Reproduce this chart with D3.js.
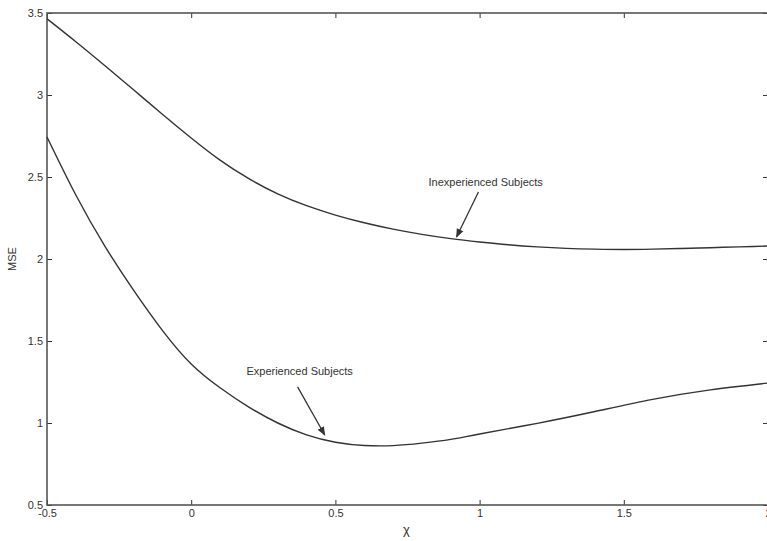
<!DOCTYPE html>
<html>
<head>
<meta charset="utf-8">
<script src="https://cdn.jsdelivr.net/npm/d3@7"></script>
<style>
  html, body { margin: 0; padding: 0; background: #fff; overflow: hidden; }
  svg { display: block; }
  text { font-family: "Liberation Sans", Arial, sans-serif; }
</style>
</head>
<body>
<svg id="chart" width="767" height="541"></svg>
<script>
// ---- data ----
const inexpX = [-0.5, -0.4, -0.3, -0.2, -0.1, 0, 0.1, 0.2, 0.3, 0.4, 0.5, 0.6, 0.7, 0.8, 0.9, 1.0, 1.1, 1.2, 1.3, 1.4, 1.5, 1.6, 1.7, 1.8, 1.9, 2.0];
const inexpY = [3.465, 3.325, 3.18, 3.032, 2.883, 2.738, 2.603, 2.49, 2.397, 2.325, 2.268, 2.221, 2.182, 2.15, 2.124, 2.104, 2.087, 2.074, 2.065, 2.06, 2.058, 2.06, 2.064, 2.069, 2.074, 2.079];

const expX = [-0.5, -0.4, -0.3, -0.2, -0.1, 0, 0.1, 0.2, 0.3, 0.4, 0.5, 0.6, 0.7, 0.8, 0.9, 1.0, 1.2, 1.4, 1.6, 1.8, 2.0];
const expY = [2.744, 2.39, 2.08, 1.81, 1.565, 1.36, 1.215, 1.097, 1.0, 0.928, 0.883, 0.863, 0.862, 0.877, 0.9, 0.933, 0.998, 1.07, 1.144, 1.202, 1.244];

const xTicks = [-0.5, 0, 0.5, 1, 1.5, 2];
const xTickLabels = ["-0.5", "0", "0.5", "1", "1.5", "2"];
const yTicks = [0.5, 1, 1.5, 2, 2.5, 3, 3.5];
const yTickLabels = ["0.5", "1", "1.5", "2", "2.5", "3", "3.5"];

const xLabel = "\u03C7";
const yLabel = "MSE";

// annotations: label text, text anchor point, arrow start, arrow tip (data units)
const annotLabels = ["Inexperienced Subjects", "Experienced Subjects"];
const annotText = [[1.021, 2.47], [0.376, 1.317]];
const annotFrom = [[0.996, 2.409], [0.369, 1.22]];
const annotTo = [[0.92, 2.134], [0.463, 0.927]];

// ---- layout ----
const W = 767, H = 541;
const m = { left: 47, top: 13, right: -1, bottom: 36 };
const x = d3.scaleLinear().domain([-0.5, 2]).range([m.left, W - m.right]);
const y = d3.scaleLinear().domain([0.5, 3.5]).range([H - m.bottom, m.top]);

const svg = d3.select("#chart");
const ink = "#333";
const boxInk = "#555";

svg.append("defs").append("marker")
  .attr("id", "arrow").attr("viewBox", "0 0 10 10")
  .attr("refX", 9).attr("refY", 5)
  .attr("markerWidth", 9).attr("markerHeight", 9)
  .attr("markerUnits", "userSpaceOnUse")
  .attr("orient", "auto")
  .append("path").attr("d", "M0,1 L10,5 L0,9 Z").attr("fill", ink);

// axes with inward ticks
function styleAxis(g) {
  g.select(".domain").remove();
  g.selectAll(".tick line").attr("stroke", ink).attr("stroke-width", 1);
  g.selectAll(".tick text").attr("fill", ink).style("font-size", "11px")
    .style("font-family", "'Liberation Sans', Arial, sans-serif");
}

svg.append("g").attr("transform", `translate(0,${y(0.5)})`)
  .call(d3.axisBottom(x).tickValues(xTicks).tickFormat((d, i) => xTickLabels[i]).tickSizeInner(-5).tickSizeOuter(0).tickPadding(4))
  .call(styleAxis);
svg.append("g").attr("transform", `translate(0,${y(3.5)})`)
  .call(d3.axisTop(x).tickValues(xTicks).tickFormat("").tickSizeInner(-5).tickSizeOuter(0))
  .call(styleAxis);
svg.append("g").attr("transform", `translate(${x(-0.5)},0)`)
  .call(d3.axisLeft(y).tickValues(yTicks).tickFormat((d, i) => yTickLabels[i]).tickSizeInner(-5).tickSizeOuter(0).tickPadding(4))
  .call(styleAxis);
svg.append("g").attr("transform", `translate(${x(2)},0)`)
  .call(d3.axisRight(y).tickValues(yTicks).tickFormat("").tickSizeInner(-5).tickSizeOuter(0))
  .call(styleAxis);

// frame
svg.append("rect")
  .attr("x", x(-0.5)).attr("y", y(3.5))
  .attr("width", x(2) - x(-0.5)).attr("height", y(0.5) - y(3.5))
  .attr("fill", "none").attr("stroke", boxInk).attr("stroke-width", 1.6);

// curves
const line = d3.line().x(d => x(d[0])).y(d => y(d[1])).curve(d3.curveNatural);
const inexp = inexpX.map((v, i) => [v, inexpY[i]]);
const exp = expX.map((v, i) => [v, expY[i]]);
[inexp, exp].forEach(s => {
  svg.append("path").datum(s).attr("d", line)
    .attr("fill", "none").attr("stroke", ink).attr("stroke-width", 1.4);
});

// annotations
annotLabels.forEach((t, i) => {
  svg.append("text").attr("x", x(annotText[i][0])).attr("y", y(annotText[i][1]) + 4)
    .attr("text-anchor", "middle").attr("fill", ink).style("font-size", "11px").text(t);
  svg.append("line")
    .attr("x1", x(annotFrom[i][0])).attr("y1", y(annotFrom[i][1]))
    .attr("x2", x(annotTo[i][0])).attr("y2", y(annotTo[i][1]))
    .attr("stroke", ink).attr("stroke-width", 1.3).attr("marker-end", "url(#arrow)");
});

// axis labels
svg.append("text").attr("x", (x(-0.5) + x(2)) / 2 - 1).attr("y", 534)
  .attr("text-anchor", "middle").attr("fill", ink).style("font-size", "13px").text(xLabel);
svg.append("text").attr("transform", `translate(16,${(y(0.5) + y(3.5)) / 2}) rotate(-90)`)
  .attr("text-anchor", "middle").attr("fill", ink).style("font-size", "11px").text(yLabel);
</script>
</body>
</html>
